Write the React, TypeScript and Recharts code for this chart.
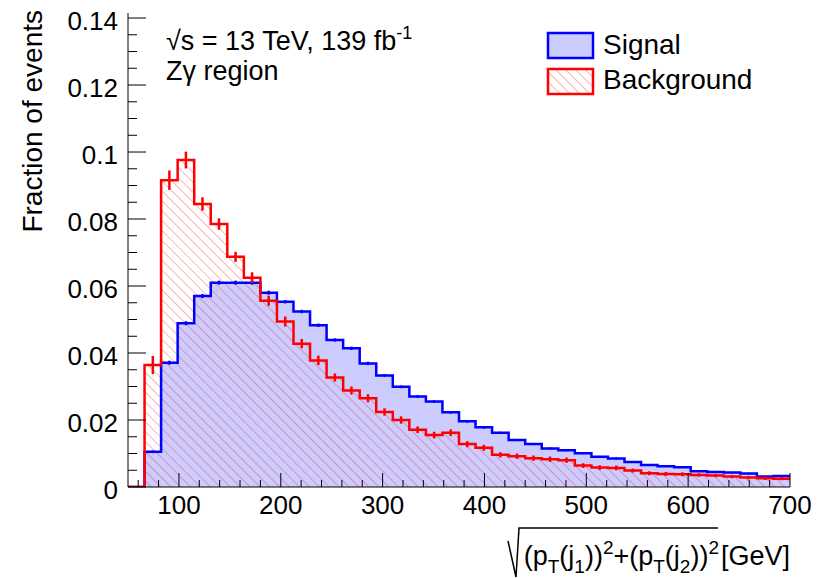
import React from 'react';
import {
  ComposedChart,
  Area,
  Line,
  Scatter,
  ErrorBar,
  XAxis,
  YAxis,
  Legend,
  Customized,
} from 'recharts';

// ---------------- data ----------------
const X_MIN = 50;
const X_MAX = 700;
const N_BINS = 40;

const signal = [
  0, 0.0105, 0.0371, 0.0489, 0.057, 0.061, 0.061, 0.061, 0.058, 0.0553,
  0.0524, 0.0483, 0.0439, 0.0414, 0.0369, 0.0333, 0.0299, 0.027, 0.0255, 0.0223,
  0.0196, 0.0178, 0.0162, 0.014, 0.0128, 0.0115, 0.011, 0.0101, 0.009, 0.0085,
  0.0075, 0.0066, 0.0062, 0.0059, 0.0047, 0.0045, 0.0043, 0.004, 0.0031, 0.0033,
];

const background = [
  0, 0.0364, 0.0916, 0.0976, 0.0845, 0.0785, 0.0687, 0.0625, 0.0556, 0.0494,
  0.0428, 0.0378, 0.0327, 0.0288, 0.0265, 0.0224, 0.02, 0.0171, 0.0155, 0.0162,
  0.0128, 0.0117, 0.0096, 0.0092, 0.0086, 0.0083, 0.008, 0.0064, 0.0058, 0.0057,
  0.0049, 0.0041, 0.0039, 0.0038, 0.0036, 0.0034, 0.0031, 0.0028, 0.0026, 0.0025,
];

const signalErr = [
  0, 0.0004, 0.0006, 0.0006, 0.0006, 0.0006, 0.0006, 0.0006, 0.0006, 0.0005,
  0.0005, 0.0005, 0.0005, 0.0005, 0.0005, 0.0004, 0.0004, 0.0004, 0.0004, 0.0004,
  0.0004, 0.0004, 0.0003, 0.0003, 0.0003, 0.0003, 0.0003, 0.0003, 0.0003, 0.0003,
  0.0002, 0.0002, 0.0002, 0.0002, 0.0002, 0.0002, 0.0002, 0.0002, 0.0002, 0.0002,
];

const backgroundErr = [
  0, 0.0027, 0.0029, 0.0025, 0.002, 0.0017, 0.0015, 0.0016, 0.0015, 0.0015,
  0.0014, 0.0014, 0.0012, 0.0012, 0.0012, 0.0011, 0.0011, 0.001, 0.001, 0.001,
  0.0009, 0.0009, 0.0008, 0.0008, 0.0008, 0.0008, 0.0008, 0.0007, 0.0007, 0.0007,
  0.0006, 0.0006, 0.0006, 0.0006, 0.0005, 0.0005, 0.0005, 0.0005, 0.0005, 0.0005,
];

const xMajorTicks = [100, 200, 300, 400, 500, 600, 700];
const yMajorTicks = [0, 0.02, 0.04, 0.06, 0.08, 0.1, 0.12, 0.14];
const yTickLabels = ['0', '0.02', '0.04', '0.06', '0.08', '0.1', '0.12', '0.14'];
const X_MINOR_STEP = 20;
const Y_MINOR_STEP = 0.005;
const Y_MAX = 0.1415;

// ---------------- derived tables ----------------
const binWidth = (X_MAX - X_MIN) / N_BINS;
const stepData = Array.from({ length: N_BINS + 1 }, (_, i) => {
  const k = Math.min(i, N_BINS - 1);
  return { x: X_MIN + i * binWidth, sig: signal[k], bkg: background[k] };
});
const sigPoints = signal.map((v, i) => ({ x: X_MIN + (i + 0.5) * binWidth, v, e: signalErr[i] }));
const bkgPoints = background.map((v, i) => ({ x: X_MIN + (i + 0.5) * binWidth, v, e: backgroundErr[i] }));

const xAllTicks: number[] = [];
for (let t = 60; t <= X_MAX + 1e-9; t += X_MINOR_STEP) xAllTicks.push(Math.round(t));
const yAllTicks: number[] = [];
for (let k = 0; k * Y_MINOR_STEP <= 0.14 + 1e-9; k++) yAllTicks.push(Math.round(k * Y_MINOR_STEP * 1000) / 1000);

const FONT = '"Liberation Sans", Arial, Helvetica, sans-serif';
const TICK_FS = 26;

const isXMajor = (v: number) => xMajorTicks.indexOf(v) >= 0;
const yMajorIndex = (v: number) => yMajorTicks.findIndex((t) => Math.abs(t - v) < 1e-6);

// ---------------- tick renderers ----------------
const BottomTick = (props: any) => {
  const { x, y, payload } = props;
  const major = isXMajor(payload.value);
  return (
    <g>
      <line x1={x} x2={x} y1={y} y2={y - (major ? 14 : 7)} stroke="#000" strokeWidth={1} />
      {major && (
        <text x={x} y={y + 27} textAnchor="middle" fontSize={TICK_FS} fontFamily={FONT} fill="#000">
          {payload.value}
        </text>
      )}
    </g>
  );
};

const TopTick = (props: any) => {
  const { x, y, payload } = props;
  const major = isXMajor(payload.value);
  return <line x1={x} x2={x} y1={y} y2={y + (major ? 14 : 7)} stroke="#000" strokeWidth={1} />;
};

const LeftTick = (props: any) => {
  const { x, y, payload } = props;
  const mi = yMajorIndex(payload.value);
  const major = mi >= 0;
  return (
    <g>
      <line x1={x} x2={x + (major ? 18 : 9)} y1={y} y2={y} stroke="#000" strokeWidth={1} />
      {major && (
        <text x={x - 10} y={y + 12} textAnchor="end" fontSize={TICK_FS} fontFamily={FONT} fill="#000">
          {yTickLabels[mi]}
        </text>
      )}
    </g>
  );
};

const RightTick = (props: any) => {
  const { x, y, payload } = props;
  const major = yMajorIndex(payload.value) >= 0;
  return <line x1={x} x2={x - (major ? 18 : 9)} y1={y} y2={y} stroke="#000" strokeWidth={1} />;
};

// ---------------- titles / annotations ----------------
const XTitle = (props: any) => {
  const vb = props.viewBox || { x: 128, y: 487, width: 662, height: 91 };
  const right = vb.x + vb.width;
  const base = vb.y + 78;
  const sub = 19;
  return (
    <g fontFamily={FONT} fill="#000">
      <text x={right} y={base} textAnchor="end" fontSize={27}>[GeV]</text>
      <text x={right - 71} y={base} textAnchor="end" fontSize={27}>
        <tspan>(p</tspan>
        <tspan fontSize={sub} dy={8}>T</tspan>
        <tspan dy={-8}>(j</tspan>
        <tspan fontSize={sub} dy={8}>1</tspan>
        <tspan dy={-8}>))</tspan>
        <tspan fontSize={sub} dy={-11}>2</tspan>
        <tspan dy={11}>+(p</tspan>
        <tspan fontSize={sub} dy={8}>T</tspan>
        <tspan dy={-8}>(j</tspan>
        <tspan fontSize={sub} dy={8}>2</tspan>
        <tspan dy={-8}>))</tspan>
        <tspan fontSize={sub} dy={-11}>2</tspan>
      </text>
      <path
        d={`M ${right - 282} ${base - 24} L ${right - 274} ${base + 12} L ${right - 271} ${base - 37} L ${right - 72} ${base - 37}`}
        fill="none"
        stroke="#000"
        strokeWidth={1.5}
      />
    </g>
  );
};

const YTitle = (props: any) => {
  const vb = props.viewBox || { x: 0, y: 13, width: 128, height: 474 };
  const top = vb.y - 3;
  const baseX = vb.x + 42;
  return (
    <text
      transform="rotate(-90)"
      x={-top}
      y={baseX}
      textAnchor="end"
      fontSize={28}
      fontFamily={FONT}
      fill="#000"
    >
      Fraction of events
    </text>
  );
};

const Annotation = () => (
  <g fontFamily={FONT} fill="#000" fontSize={27}>
    <text x={166} y={50}>
      <tspan>√s = 13 TeV, 139 fb</tspan>
      <tspan fontSize={18} dy={-11}>-1</tspan>
    </text>
    <text x={166} y={80}>Zγ region</text>
  </g>
);

const LegendContent = () => (
  <svg width={260} height={80} style={{ display: 'block', overflow: 'visible' }}>
    <rect x={2} y={2} width={45} height={25} fill="#ccccff" stroke="#0000ff" strokeWidth={2.5} />
    <text x={57} y={23} fontSize={28} fontFamily={FONT} fill="#000">Signal</text>
    <rect x={2} y={38} width={45} height={25} fill="#ffffff" stroke="none" />
    <rect x={2} y={38} width={45} height={25} fill="url(#bkgHatch)" stroke="#ff0000" strokeWidth={2.5} />
    <text x={57} y={58} fontSize={28} fontFamily={FONT} fill="#000">Background</text>
  </svg>
);

const InvisibleDot = () => <g />;

export default function App() {
  return (
    <div style={{ position: 'absolute', left: 0, top: 0, width: 828, height: 578, background: '#fff', fontFamily: FONT }}>
      <ComposedChart
        width={828}
        height={578}
        data={stepData}
        margin={{ top: 13, right: 38, bottom: 0, left: 0 }}
      >
        <defs>
          <pattern id="bkgHatch" patternUnits="userSpaceOnUse" width={7} height={7} patternTransform="rotate(-45)">
            <line x1={0} y1={0} x2={0} y2={7} stroke="#ff0000" strokeWidth={0.8} strokeOpacity={0.75} />
          </pattern>
        </defs>

        <Area
          type="stepAfter"
          dataKey="sig"
          fill="#ccccff"
          fillOpacity={1}
          stroke="none"
          isAnimationActive={false}
          activeDot={false}
        />
        <Area
          type="stepAfter"
          dataKey="bkg"
          fill="url(#bkgHatch)"
          fillOpacity={1}
          stroke="none"
          isAnimationActive={false}
          activeDot={false}
        />
        <Line
          type="stepAfter"
          dataKey="sig"
          stroke="#0000ff"
          strokeWidth={2.5}
          dot={false}
          activeDot={false}
          isAnimationActive={false}
        />
        <Scatter data={sigPoints} dataKey="v" shape={InvisibleDot} isAnimationActive={false}>
          <ErrorBar dataKey="e" direction="y" width={0} stroke="#0000ff" strokeWidth={2.5} isAnimationActive={false} />
        </Scatter>
        <Line
          type="stepAfter"
          dataKey="bkg"
          stroke="#ff0000"
          strokeWidth={2.5}
          dot={false}
          activeDot={false}
          isAnimationActive={false}
        />
        <Scatter data={bkgPoints} dataKey="v" shape={InvisibleDot} isAnimationActive={false}>
          <ErrorBar dataKey="e" direction="y" width={0} stroke="#ff0000" strokeWidth={2.5} isAnimationActive={false} />
        </Scatter>

        <XAxis
          dataKey="x"
          type="number"
          domain={[X_MIN, X_MAX]}
          allowDataOverflow
          ticks={xAllTicks}
          interval={0}
          tick={<BottomTick />}
          tickLine={false}
          tickSize={0}
          tickMargin={0}
          axisLine={{ stroke: '#000', strokeWidth: 1 }}
          height={91}
          label={<XTitle />}
        />
        <XAxis
          xAxisId="top"
          orientation="top"
          dataKey="x"
          type="number"
          domain={[X_MIN, X_MAX]}
          allowDataOverflow
          ticks={xAllTicks}
          interval={0}
          tick={<TopTick />}
          tickLine={false}
          tickSize={0}
          tickMargin={0}
          axisLine={{ stroke: '#000', strokeWidth: 1 }}
          height={0}
        />
        <YAxis
          type="number"
          domain={[0, Y_MAX]}
          allowDataOverflow
          ticks={yAllTicks}
          interval={0}
          tick={<LeftTick />}
          tickLine={false}
          tickSize={0}
          tickMargin={0}
          axisLine={{ stroke: '#000', strokeWidth: 1 }}
          width={128}
          label={<YTitle />}
        />
        <YAxis
          yAxisId="right"
          orientation="right"
          type="number"
          domain={[0, Y_MAX]}
          allowDataOverflow
          ticks={yAllTicks}
          interval={0}
          tick={<RightTick />}
          tickLine={false}
          tickSize={0}
          tickMargin={0}
          axisLine={{ stroke: '#000', strokeWidth: 1 }}
          width={0}
        />
        <Customized component={Annotation} />
        <Legend
          content={<LegendContent />}
          layout="horizontal"
          verticalAlign="middle"
          align="center"
          wrapperStyle={{ left: 546, top: 31, width: 260, height: 80 }}
        />
      </ComposedChart>
    </div>
  );
}
